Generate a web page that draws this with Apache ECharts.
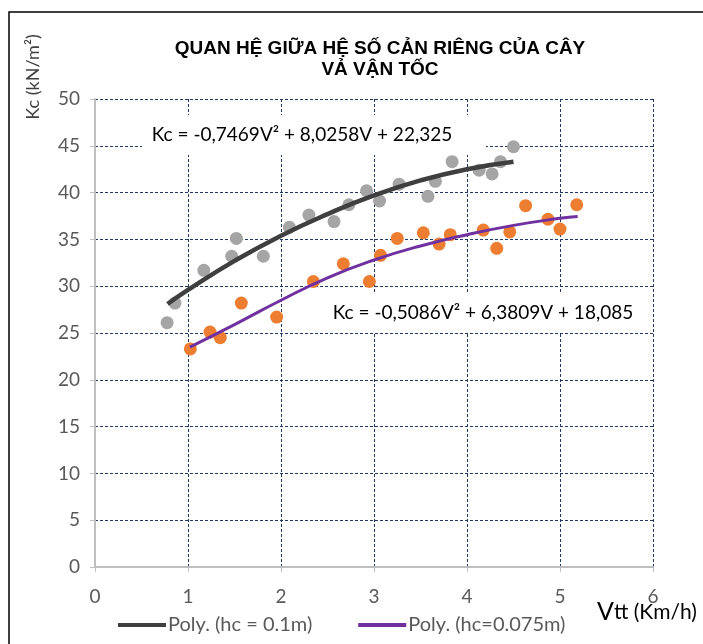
<!DOCTYPE html>
<html>
<head>
<meta charset="utf-8">
<script src="https://cdn.jsdelivr.net/npm/echarts@6/dist/echarts.min.js"></script>
<style>
  html, body { margin: 0; padding: 0; background: #fff; }
  #chart { width: 703px; height: 644px; }
</style>
</head>
<body>
<div id="chart"></div>
<script>
// Số liệu đo
var grayX = [0.775, 0.86, 1.17, 1.47, 1.52, 1.81, 2.09, 2.30, 2.57, 2.73, 2.92, 3.06, 3.27, 3.58, 3.66, 3.84, 4.13, 4.27, 4.36, 4.50];
var grayY = [26.1, 28.2, 31.7, 33.2, 35.1, 33.2, 36.3, 37.6, 36.9, 38.7, 40.2, 39.1, 40.9, 39.6, 41.2, 43.3, 42.4, 42.0, 43.3, 44.9];

var orangeX = [1.025, 1.237, 1.347, 1.573, 1.953, 2.348, 2.67, 2.95, 3.07, 3.25, 3.53, 3.70, 3.82, 4.175, 4.32, 4.46, 4.63, 4.87, 5.0, 5.18];
var orangeY = [23.3, 25.1, 24.5, 28.2, 26.7, 30.5, 32.4, 30.5, 33.3, 35.1, 35.7, 34.5, 35.5, 36.0, 34.05, 35.8, 38.6, 37.15, 36.1, 38.7];

// Đường xu hướng
var trend1X = [0.78, 1.0, 1.5, 2.0, 2.5, 3.0, 3.5, 4.0, 4.5];
var trend1Y = [28.1, 29.6, 32.7, 35.4, 37.7, 39.7, 41.3, 42.5, 43.3];
var trend2X = [1.02, 1.5, 2.0, 2.5, 3.0, 3.5, 4.0, 4.5, 5.0, 5.19];
var trend2Y = [23.5, 25.9, 28.5, 30.9, 32.8, 34.3, 35.5, 36.5, 37.25, 37.45];

var seriesNames = ['Poly. (hc = 0.1m)', 'Poly. (hc=0.075m)'];
var equations = ['Kc = -0,7469V² + 8,0258V + 22,325', 'Kc = -0,5086V² + 6,3809V + 18,085'];

function pairs(xs, ys) {
    return xs.map(function (x, i) { return [x, ys[i]]; });
}

var chart = echarts.init(document.getElementById('chart'));

var font = 'Lato, "Noto Sans", sans-serif';
var gridLine = { show: true, lineStyle: { color: '#1f3864', type: [3, 2], width: 1 } };

var option = {
    backgroundColor: '#fff',
    animation: false,
    title: {
        text: 'QUAN HỆ GIỮA HỆ SỐ CẢN RIÊNG CỦA CÂY\nVẢ VẬN TỐC',
        left: 375,
        top: 33,
        textAlign: 'center',
        textStyle: {
            fontFamily: '"Liberation Sans", Arial, sans-serif',
            fontWeight: 'bold',
            fontSize: 19,
            lineHeight: 21,
            color: '#000'
        }
    },
    grid: { left: 95, right: 50, top: 99, bottom: 77 },
    legend: {
        data: seriesNames,
        left: 113,
        top: 610,
        itemWidth: 48,
        itemHeight: 4,
        itemGap: 46,
        icon: 'rect',
        textStyle: { fontFamily: font, fontSize: 20, color: '#595959', padding: [0, 0, 0, -3] }
    },
    xAxis: {
        type: 'value',
        min: 0,
        max: 6,
        interval: 1,
        axisLine: { show: true, onZero: false, lineStyle: { color: '#bfbfbf', width: 2 } },
        axisTick: { show: true, length: 5, lineStyle: { color: '#bfbfbf', width: 1 } },
        axisLabel: { fontFamily: font, fontSize: 19, color: '#595959', margin: 20 },
        splitLine: gridLine
    },
    yAxis: {
        type: 'value',
        min: 0,
        max: 50,
        interval: 5,
        axisLine: { show: true, lineStyle: { color: '#bfbfbf', width: 2 } },
        axisTick: { show: true, length: 5, lineStyle: { color: '#bfbfbf', width: 1 } },
        axisLabel: { fontFamily: font, fontSize: 19, color: '#595959', margin: 15 },
        splitLine: gridLine
    },
    graphic: [
        {
            type: 'rect', z: 1,
            shape: { x: 142, y: 115, width: 344, height: 40 },
            style: { fill: '#fff' }
        },
        {
            type: 'text', z: 1,
            x: 302, y: 135,
            style: { text: equations[0], font: '19px ' + font, fill: '#000', align: 'center', verticalAlign: 'middle' }
        },
        {
            type: 'rect', z: 1,
            shape: { x: 328, y: 293, width: 312, height: 39 },
            style: { fill: '#fff' }
        },
        {
            type: 'text', z: 1,
            x: 483, y: 313,
            style: { text: equations[1], font: '19px ' + font, fill: '#000', align: 'center', verticalAlign: 'middle' }
        },
        {
            type: 'text', z: 1,
            x: 33, y: 77,
            rotation: Math.PI / 2,
            style: { text: 'Kc (kN/m²)', font: '18px ' + font, fill: '#404040', align: 'center', verticalAlign: 'middle' }
        },
        {
            type: 'text', z: 1,
            x: 597, y: 612,
            style: {
                text: '{a|V}{b|tt (Km/h)}',
                verticalAlign: 'middle',
                rich: {
                    a: { fontFamily: font, fontSize: 25, fill: '#000', color: '#000' },
                    b: { fontFamily: font, fontSize: 21, fill: '#000', color: '#000' }
                }
            }
        },
        {
            type: 'rect', z: 10,
            shape: { x: 9, y: 12, width: 720, height: 660 },
            style: { fill: 'none', stroke: '#000', lineWidth: 1.5 }
        }
    ],
    series: [
        {
            name: 'hc = 0.1m',
            type: 'scatter',
            symbolSize: 13,
            itemStyle: { color: '#a5a5a5', opacity: 1 },
            data: pairs(grayX, grayY),
            z: 2
        },
        {
            name: 'hc = 0.075m',
            type: 'scatter',
            symbolSize: 13,
            itemStyle: { color: '#ed7d31', opacity: 1 },
            data: pairs(orangeX, orangeY),
            z: 2
        },
        {
            name: seriesNames[0],
            type: 'line',
            smooth: true,
            showSymbol: false,
            lineStyle: { color: '#3f3f3f', width: 4.5 },
            itemStyle: { color: '#3f3f3f' },
            data: pairs(trend1X, trend1Y),
            z: 3
        },
        {
            name: seriesNames[1],
            type: 'line',
            smooth: true,
            showSymbol: false,
            lineStyle: { color: '#7030a0', width: 3 },
            itemStyle: { color: '#7030a0' },
            data: pairs(trend2X, trend2Y),
            z: 3
        }
    ]
};

chart.setOption(option);
</script>
</body>
</html>
